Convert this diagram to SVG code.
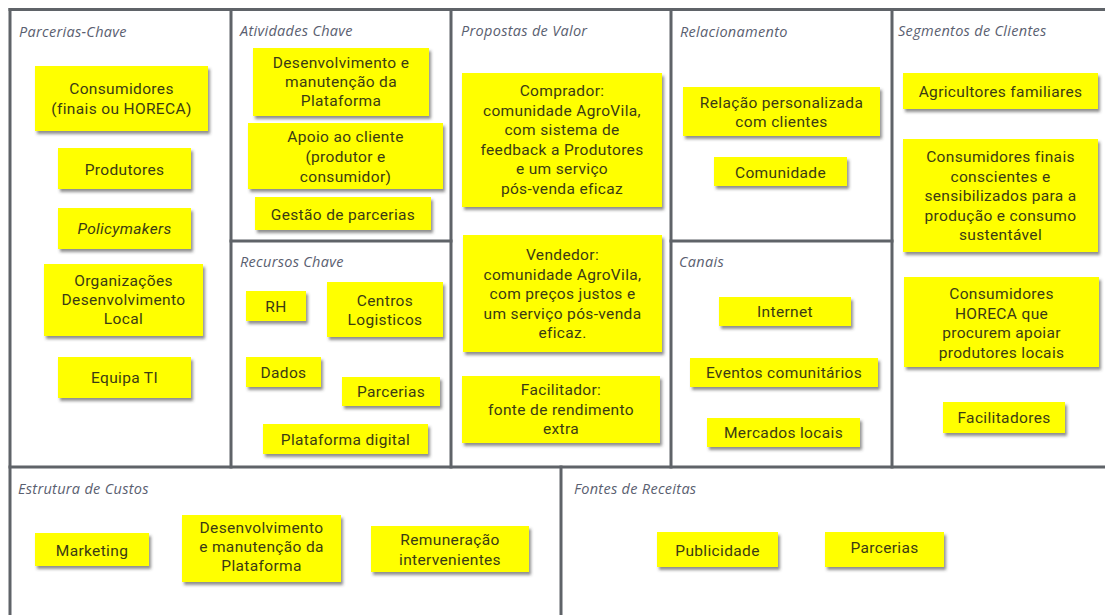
<svg xmlns="http://www.w3.org/2000/svg" width="1105" height="615" viewBox="0 0 1105 615">
<style>
.frame{stroke:#5f6368;stroke-width:3;fill:none;stroke-linecap:square}
.title{font-family:"Open Sans","Liberation Sans",sans-serif;font-style:italic;font-size:14.5px;letter-spacing:0.3px;fill:#5a6070}
.note rect{fill:#ffff00;filter:url(#sh)}
.note text{font-family:Roboto,"Liberation Sans",sans-serif;font-size:15.5px;letter-spacing:0.35px;fill:#3b3b14;text-anchor:middle}
</style>
<defs>
<filter id="sh" x="-10%" y="-10%" width="130%" height="140%">
<feDropShadow dx="2" dy="3" stdDeviation="1.5" flood-color="#444" flood-opacity="0.6"/>
</filter>
</defs>
<rect width="1105" height="615" fill="#ffffff"/>
<g id="grid">
<line class="frame" x1="10" y1="9.5" x2="1105" y2="9.5"/>
<line class="frame" x1="10" y1="9.5" x2="10" y2="615"/>
<line class="frame" x1="231" y1="9.5" x2="231" y2="467"/>
<line class="frame" x1="451" y1="9.5" x2="451" y2="467"/>
<line class="frame" x1="671" y1="9.5" x2="671" y2="467"/>
<line class="frame" x1="892" y1="9.5" x2="892" y2="467"/>
<line class="frame" x1="231" y1="241" x2="451" y2="241"/>
<line class="frame" x1="671" y1="241" x2="892" y2="241"/>
<line class="frame" x1="10" y1="467" x2="1105" y2="467"/>
<line class="frame" x1="561" y1="467" x2="561" y2="615"/>
</g>
<g id="titles">
<text class="title" x="19" y="37">Parcerias-Chave</text>
<text class="title" x="240" y="36">Atividades Chave</text>
<text class="title" x="240" y="267">Recursos Chave</text>
<text class="title" x="461" y="36">Propostas de Valor</text>
<text class="title" x="680" y="37">Relacionamento</text>
<text class="title" x="679" y="267">Canais</text>
<text class="title" x="898" y="36">Segmentos de Clientes</text>
<text class="title" x="18" y="494">Estrutura de Custos</text>
<text class="title" x="574" y="494">Fontes de Receitas</text>
</g>
<g id="connectors"></g>

<g id="pc1" class="note"><rect x="35" y="66" width="173" height="65"/><text x="121.5" y="94">Consumidores</text><text x="121.5" y="114">(finais ou HORECA)</text></g>
<g id="pc2" class="note"><rect x="58" y="148" width="133" height="41"/><text x="124.5" y="175">Produtores</text></g>
<g id="pc3" class="note"><rect x="58" y="208" width="133" height="41"/><text x="124.5" y="234" font-style="italic">Policymakers</text></g>
<g id="pc4" class="note"><rect x="44" y="264" width="159" height="72"/><text x="123.5" y="286">Organizações</text><text x="123.5" y="305">Desenvolvimento</text><text x="123.5" y="324">Local</text></g>
<g id="pc5" class="note"><rect x="58" y="357" width="133" height="41"/><text x="124.5" y="383">Equipa TI</text></g>

<g id="ac1" class="note"><rect x="253" y="48" width="176" height="68"/><text x="341" y="68">Desenvolvimento e</text><text x="341" y="87">manutenção da</text><text x="341" y="106">Plataforma</text></g>
<g id="ac2" class="note"><rect x="248" y="123" width="195" height="66"/><text x="345.5" y="142">Apoio ao cliente</text><text x="345.5" y="162">(produtor e</text><text x="345.5" y="182">consumidor)</text></g>
<g id="ac3" class="note"><rect x="255" y="197" width="176" height="33"/><text x="343" y="220">Gestão de parcerias</text></g>

<g id="rc1" class="note"><rect x="246" y="291" width="60" height="30"/><text x="276" y="312">RH</text></g>
<g id="rc2" class="note"><rect x="327" y="282" width="116" height="55"/><text x="385" y="306">Centros</text><text x="385" y="325">Logisticos</text></g>
<g id="rc3" class="note"><rect x="246" y="357" width="75" height="30"/><text x="283.5" y="378">Dados</text></g>
<g id="rc4" class="note"><rect x="342" y="377" width="98" height="29"/><text x="391" y="397">Parcerias</text></g>
<g id="rc5" class="note"><rect x="263" y="424" width="165" height="30"/><text x="345.5" y="445">Plataforma digital</text></g>

<g id="pv1" class="note"><rect x="462" y="73" width="200" height="134"/><text x="562" y="96">Comprador:</text><text x="562" y="115.5">comunidade AgroVila,</text><text x="562" y="135">com sistema de</text><text x="562" y="154.5">feedback a Produtores</text><text x="562" y="174">e um serviço</text><text x="562" y="193.5">pós-venda eficaz</text></g>
<g id="pv2" class="note"><rect x="463" y="235" width="199" height="117"/><text x="562.5" y="260">Vendedor:</text><text x="562.5" y="279.5">comunidade AgroVila,</text><text x="562.5" y="299">com preços justos e</text><text x="562.5" y="318.5">um serviço pós-venda</text><text x="562.5" y="338">eficaz.</text></g>
<g id="pv3" class="note"><rect x="462" y="376" width="198" height="67"/><text x="561" y="395">Facilitador:</text><text x="561" y="415">fonte de rendimento</text><text x="561" y="434">extra</text></g>

<g id="rl1" class="note"><rect x="683" y="87" width="197" height="49"/><text x="781.5" y="108">Relação personalizada</text><text x="781.5" y="127">com clientes</text></g>
<g id="rl2" class="note"><rect x="714" y="157" width="133" height="29"/><text x="780.5" y="178">Comunidade</text></g>

<g id="cn1" class="note"><rect x="719" y="297" width="132" height="29"/><text x="785" y="317">Internet</text></g>
<g id="cn2" class="note"><rect x="690" y="358" width="188" height="29"/><text x="784" y="378">Eventos comunitários</text></g>
<g id="cn3" class="note"><rect x="707" y="418" width="153" height="29"/><text x="783.5" y="438">Mercados locais</text></g>

<g id="sc1" class="note"><rect x="903" y="73" width="195" height="36"/><text x="1000.5" y="97">Agricultores familiares</text></g>
<g id="sc2" class="note"><rect x="903" y="139" width="195" height="113"/><text x="1000.5" y="162">Consumidores finais</text><text x="1000.5" y="181.5">conscientes e</text><text x="1000.5" y="201">sensibilizados para a</text><text x="1000.5" y="220.5">produção e consumo</text><text x="1000.5" y="240">sustentável</text></g>
<g id="sc3" class="note"><rect x="904" y="277" width="195" height="90"/><text x="1001.5" y="299">Consumidores</text><text x="1001.5" y="318.5">HORECA que</text><text x="1001.5" y="338">procurem apoiar</text><text x="1001.5" y="357.5">produtores locais</text></g>
<g id="sc4" class="note"><rect x="943" y="402" width="122" height="31"/><text x="1004" y="423">Facilitadores</text></g>

<g id="ec1" class="note"><rect x="35" y="533" width="114" height="33"/><text x="92" y="556">Marketing</text></g>
<g id="ec2" class="note"><rect x="182" y="515" width="159" height="67"/><text x="261.5" y="533">Desenvolvimento</text><text x="261.5" y="552">e manutenção da</text><text x="261.5" y="571">Plataforma</text></g>
<g id="ec3" class="note"><rect x="371" y="526" width="158" height="46"/><text x="450" y="545">Remuneração</text><text x="450" y="565">intervenientes</text></g>

<g id="fr1" class="note"><rect x="657" y="532" width="121" height="35"/><text x="717.5" y="556">Publicidade</text></g>
<g id="fr2" class="note"><rect x="825" y="532" width="119" height="35"/><text x="884.5" y="553">Parcerias</text></g>
</svg>
